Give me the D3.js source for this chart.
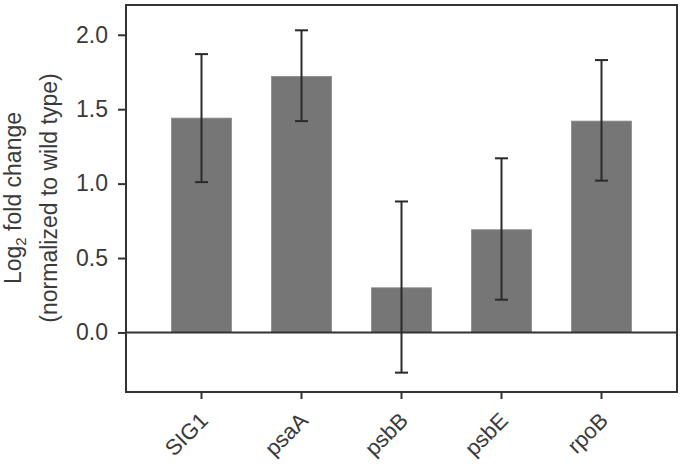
<!DOCTYPE html>
<html><head><meta charset="utf-8">
<script src="https://cdn.jsdelivr.net/npm/d3@7"></script>
<style>body{margin:0;background:#fff}svg{display:block}text{font-family:"Liberation Sans",Arial,sans-serif;fill:#3a3a3a}</style>
</head><body><svg id="c" width="684" height="464"></svg>
<script>
const categories = ["SIG1","psaA","psbB","psbE","rpoB"];
const values = [1.44, 1.72, 0.30, 0.69, 1.42];
const errLow = [1.01, 1.42, -0.27, 0.22, 1.02];
const errHigh = [1.87, 2.03, 0.88, 1.17, 1.83];
const yTicks = [0.0, 0.5, 1.0, 1.5, 2.0];

const svg = d3.select("#c");
const L = 126, R = 677, T = 5, B = 392;
const x = d3.scaleBand().domain(categories).range([L, R]).paddingInner(0.4).paddingOuter(0.455);
const y = d3.scaleLinear().domain([-0.4, 2.2]).range([B, T]);
const ink = "#333";
const fs = 23;

// bars
svg.selectAll("rect.bar").data(categories).enter().append("rect")
  .attr("x", d => x(d)).attr("width", x.bandwidth())
  .attr("y", (d,i) => y(Math.max(0, values[i])))
  .attr("height", (d,i) => Math.abs(y(values[i]) - y(0)))
  .attr("fill", "#767676").attr("stroke", "#8a8a8a").attr("stroke-width", 0.8);

// zero line
svg.append("line").attr("x1", L).attr("x2", R).attr("y1", y(0)).attr("y2", y(0))
  .attr("stroke", ink).attr("stroke-width", 2);

// error bars
const cap = 6.5;
const eg = svg.append("g").attr("stroke", "#2a2a2a").attr("stroke-width", 2);
categories.forEach((c, i) => {
  const cx = x(c) + x.bandwidth() / 2;
  eg.append("line").attr("x1", cx).attr("x2", cx).attr("y1", y(errLow[i])).attr("y2", y(errHigh[i]));
  eg.append("line").attr("x1", cx - cap).attr("x2", cx + cap).attr("y1", y(errLow[i])).attr("y2", y(errLow[i]));
  eg.append("line").attr("x1", cx - cap).attr("x2", cx + cap).attr("y1", y(errHigh[i])).attr("y2", y(errHigh[i]));
});

// frame
svg.append("rect").attr("x", L).attr("y", T).attr("width", R - L).attr("height", B - T)
  .attr("fill", "none").attr("stroke", ink).attr("stroke-width", 2);

// y axis
const ya = svg.append("g").attr("transform", `translate(${L},0)`)
  .call(d3.axisLeft(y).tickValues(yTicks).tickFormat(d3.format(".1f")).tickSize(8).tickPadding(10));
ya.select(".domain").remove();
ya.selectAll(".tick line").attr("stroke", ink).attr("stroke-width", 2);
ya.selectAll(".tick text").attr("font-size", fs).attr("fill", "#3a3a3a").style("font-family", '"Liberation Sans",Arial,sans-serif');

// x axis
const xa = svg.append("g").attr("transform", `translate(0,${B})`)
  .call(d3.axisBottom(x).tickSize(7).tickFormat(""));
xa.select(".domain").remove();
xa.selectAll(".tick line").attr("stroke", ink).attr("stroke-width", 2);
categories.forEach(c => {
  const cx = x(c) + x.bandwidth() / 2;
  svg.append("text").attr("transform", `translate(${cx - 3},${B + 19}) rotate(-45)`)
    .attr("text-anchor", "end").attr("dy", "0.7em").attr("font-size", 22).text(c);
});

// y title
const t = svg.append("text").attr("transform", "translate(21,198) rotate(-90)")
  .attr("text-anchor", "middle").attr("font-size", fs);
t.append("tspan").text("Log");
t.append("tspan").attr("font-size", 15).attr("dy", 5).text("2");
t.append("tspan").attr("dy", -5).text(" fold change");
svg.append("text").attr("transform", "translate(57,198) rotate(-90)")
  .attr("text-anchor", "middle").attr("font-size", fs).text("(normalized to wild type)");
</script></body></html>
